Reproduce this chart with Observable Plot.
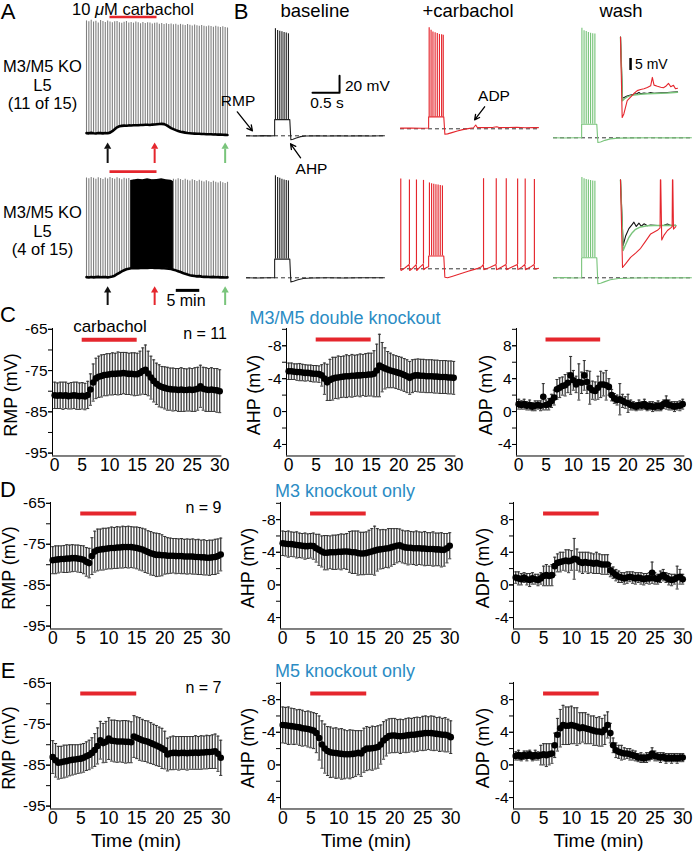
<!DOCTYPE html>
<html><head><meta charset="utf-8">
<script src="https://cdn.jsdelivr.net/npm/d3@7"></script>
<script src="https://cdn.jsdelivr.net/npm/@observablehq/plot@0.6"></script>
<style>
html,body{margin:0;padding:0;background:#fff;}
#fig{position:relative;width:693px;height:853px;overflow:hidden;background:#fff;font-family:"Liberation Sans",Arial,Helvetica,sans-serif;color:#000;}
.lbl{position:absolute;white-space:nowrap;line-height:0.86;}
.multi{text-align:center;}
</style></head><body><div id="fig"></div>
<script>
// ---------------- DATA ----------------
const minutes = [0,0.5,1,1.5,2,2.5,3,3.5,4,4.5,5,5.5,6,6.5,7,7.5,8,8.5,9,9.5,10,10.5,11,11.5,12,12.5,13,13.5,14,14.5,15,15.5,16,16.5,17,17.5,18,18.5,19,19.5,20,20.5,21,21.5,22,22.5,23,23.5,24,24.5,25,25.5,26,26.5,27,27.5,28,28.5,29,29.5,30];
const carbachol = [5, 15];
const xTicks = [0,5,10,15,20,25,30];

// C: M3/M5 double knockout (n = 11)
const cRmpMean = [-81.0,-81.1,-81.0,-81.1,-81.0,-81.2,-81.1,-81.0,-81.1,-81.2,
 -81.1,-81.3,-80.9,-79.6,-77.9,-76.9,-76.5,-76.3,-76.1,-76.0,
 -75.9,-75.8,-75.8,-75.7,-75.7,-75.6,-75.7,-75.8,-75.8,-75.9,
 -75.9,-75.6,-75.1,-74.8,-75.7,-76.7,-77.5,-78.2,-78.7,-79.0,
 -79.2,-79.4,-79.5,-79.6,-79.6,-79.7,-79.6,-79.7,-79.7,-79.6,
 -79.7,-79.6,-79.4,-78.8,-79.4,-79.6,-79.7,-79.6,-79.7,-79.8,
 -80.0];
const cRmpErr = [3.2,3.1,3.2,3.3,3.2,3.1,3.2,3.2,3.3,3.2,
 3.2,3.2,3.3,3.8,4.5,4.9,5.0,5.1,5.0,5.1,
 5.0,5.1,5.0,5.2,5.1,5.0,5.1,5.0,5.1,5.2,
 5.1,5.3,5.6,6.0,5.4,5.2,5.1,5.0,5.1,5.0,
 5.1,5.2,5.1,5.2,5.1,5.2,5.3,5.2,5.1,5.2,
 5.2,5.3,5.2,5.1,5.2,5.3,5.2,5.3,5.2,5.3,
 5.2];
const cAhpMean = [-4.9,-4.9,-4.85,-4.8,-4.8,-4.75,-4.7,-4.7,-4.65,-4.6,
 -4.6,-4.55,-4.4,-4.0,-3.55,-3.85,-4.0,-4.1,-4.15,-4.2,
 -4.25,-4.3,-4.3,-4.35,-4.35,-4.4,-4.4,-4.45,-4.45,-4.5,
 -4.5,-4.6,-5.0,-5.6,-5.4,-5.25,-5.1,-5.0,-4.9,-4.8,
 -4.7,-4.6,-4.45,-4.3,-4.1,-4.3,-4.4,-4.4,-4.35,-4.35,
 -4.3,-4.3,-4.3,-4.25,-4.25,-4.2,-4.2,-4.2,-4.15,-4.15,
 -4.1];
const cAhpErr = [1.0,1.0,0.95,1.0,1.05,1.0,1.0,0.95,1.0,1.0,
 1.0,1.0,1.3,1.9,2.2,2.5,2.6,2.5,2.6,2.5,
 2.5,2.6,2.5,2.6,2.5,2.5,2.6,2.5,2.6,2.6,
 2.6,2.8,3.2,3.8,3.0,2.5,2.2,2.1,2.0,2.0,
 2.0,2.0,2.0,2.0,2.0,2.0,1.95,2.0,2.0,2.0,
 2.0,2.0,2.0,2.0,2.0,2.0,2.0,2.0,2.0,2.0,
 2.0];
const cAdpMean = [0.9,0.8,0.9,0.7,0.8,0.6,0.7,0.8,0.7,1.8,
 0.8,0.9,1.3,1.7,2.7,2.9,3.1,3.2,3.5,4.4,
 3.8,3.3,3.6,3.5,4.4,3.6,2.9,2.6,2.5,2.9,
 3.3,3.3,3.2,3.0,2.0,1.6,1.4,1.5,1.3,1.1,
 1.0,0.8,0.7,0.6,0.8,0.7,0.9,0.6,0.7,0.6,
 0.6,0.7,0.6,0.9,1.1,0.8,0.7,0.6,0.7,0.7,
 0.9];
const cAdpErr = [0.6,0.5,0.6,0.5,0.6,0.5,0.6,0.5,0.6,1.6,
 0.6,0.7,0.8,0.9,1.2,1.2,1.1,1.3,1.2,2.3,
 1.2,1.0,2.2,1.3,1.8,1.4,2.0,1.1,1.1,1.4,
 1.6,1.4,1.8,1.0,0.7,0.6,0.6,1.9,0.8,0.7,
 1.1,0.6,0.5,0.5,0.6,0.5,0.6,0.5,0.5,0.6,
 0.5,0.6,0.5,0.5,0.8,0.6,0.5,0.6,0.5,0.6,
 0.6];

// D: M3 knockout only (n = 9)
const dRmpMean = [-78.9,-78.8,-78.7,-78.6,-78.6,-78.5,-78.5,-78.4,-78.4,-78.5,
 -78.6,-78.8,-79.3,-79.6,-77.9,-76.8,-76.4,-76.3,-76.2,-76.1,
 -76.0,-75.9,-75.9,-75.8,-75.8,-75.7,-75.7,-75.7,-75.7,-75.8,
 -75.9,-76.1,-76.3,-76.6,-76.9,-77.2,-77.4,-77.6,-77.6,-77.7,
 -77.7,-77.8,-77.8,-77.8,-77.9,-77.9,-77.9,-78.0,-78.0,-78.0,
 -78.0,-78.1,-78.1,-78.2,-78.2,-78.3,-78.3,-78.2,-78.1,-77.9,
 -77.5];
const dRmpErr = [3.3,3.4,3.3,3.2,3.3,3.4,3.3,3.3,3.2,3.3,
 3.3,3.4,3.5,3.6,4.5,5.0,5.1,5.0,5.1,5.0,
 5.0,5.1,5.0,5.1,5.0,5.1,5.0,5.1,5.0,5.0,
 5.1,5.2,5.2,5.3,5.2,5.3,5.2,5.3,5.2,5.0,
 4.6,4.4,4.3,4.2,4.3,4.2,4.3,4.2,4.3,4.2,
 4.3,4.2,4.3,4.2,4.3,4.2,4.3,4.2,4.3,4.2,
 4.0];
const dAhpMean = [-5.1,-5.05,-5.0,-5.0,-4.95,-4.9,-4.85,-4.8,-4.75,-4.75,
 -4.8,-4.75,-4.5,-4.3,-4.1,-3.95,-3.95,-4.0,-4.0,-4.0,
 -4.05,-4.05,-4.1,-4.1,-4.05,-4.0,-4.0,-3.9,-3.85,-3.85,
 -3.9,-4.0,-4.1,-4.2,-4.3,-4.35,-4.4,-4.45,-4.5,-4.6,
 -4.7,-4.8,-4.85,-4.7,-4.6,-4.55,-4.55,-4.5,-4.5,-4.5,
 -4.45,-4.45,-4.4,-4.4,-4.4,-4.35,-4.35,-4.3,-4.3,-4.5,
 -4.8];
const dAhpErr = [1.5,1.5,1.6,1.5,1.5,1.6,1.5,1.5,1.6,1.5,
 1.5,1.6,1.7,1.9,1.9,2.1,2.1,2.0,2.1,2.1,
 2.1,2.2,2.1,2.2,2.5,2.6,2.6,2.7,2.6,2.6,
 2.6,2.7,2.8,3.0,2.6,2.4,2.4,2.3,2.4,2.3,
 2.2,2.1,2.0,2.0,2.0,2.1,2.0,2.0,2.1,2.0,
 2.0,2.1,2.0,2.0,2.1,2.0,2.0,2.1,2.0,1.8,
 1.6];
const dAdpMean = [0.9,0.8,0.7,0.9,0.7,0.6,0.8,0.7,0.6,0.8,
 1.1,1.2,1.1,1.2,2.3,2.7,2.8,2.9,3.0,2.9,
 3.0,3.2,3.1,2.8,2.7,2.8,2.7,2.7,2.6,2.7,
 2.6,2.5,2.5,2.5,1.8,1.5,1.2,1.0,0.9,0.8,
 0.9,1.0,0.9,0.8,0.9,0.8,0.7,0.8,0.8,1.5,
 0.8,0.7,1.0,1.2,0.9,0.7,0.6,0.7,0.9,1.0,
 0.7];
const dAdpErr = [0.7,0.8,0.7,0.6,0.7,0.8,0.7,0.6,0.7,0.7,
 1.2,1.3,1.2,1.3,1.1,1.1,1.2,1.1,1.3,1.4,
 1.2,2.5,1.3,1.2,1.3,1.2,1.3,1.2,1.2,1.3,
 1.2,1.2,1.2,1.2,0.8,0.7,0.7,0.7,0.6,0.7,
 0.7,0.6,0.7,0.7,0.6,0.7,0.7,0.6,0.7,1.3,
 0.7,0.6,0.7,0.7,0.6,0.7,0.7,0.6,1.4,0.9,
 0.6];

// E: M5 knockout only (n = 7)
const eRmpMean = [-83.0,-83.8,-84.4,-84.3,-84.1,-84.0,-83.8,-83.7,-83.6,-83.5,
 -83.4,-83.2,-82.8,-82.5,-82.0,-81.3,-80.3,-78.9,-79.6,-79.3,
 -78.5,-79.0,-79.1,-79.2,-79.2,-79.2,-79.3,-79.3,-79.4,-78.0,
 -78.3,-78.6,-78.9,-79.1,-79.3,-79.6,-79.9,-80.2,-80.5,-80.9,
 -81.3,-82.4,-82.1,-82.0,-82.0,-82.1,-82.0,-82.0,-82.1,-82.0,
 -82.0,-81.9,-82.0,-81.9,-81.9,-81.8,-81.8,-81.7,-81.6,-82.2,
 -83.2];
const eRmpErr = [4.0,4.1,4.0,3.9,4.0,3.9,3.8,3.7,3.6,3.5,
 3.5,3.5,3.5,3.6,3.7,4.0,4.4,4.6,4.8,5.0,
 5.1,5.0,5.1,5.1,5.0,5.1,5.2,5.1,5.0,5.1,
 5.1,5.2,5.1,5.0,5.1,5.0,4.9,4.9,4.8,4.9,
 4.6,4.0,4.0,4.1,4.0,4.1,4.0,4.0,4.1,4.0,
 4.0,4.1,4.0,4.1,4.0,4.1,4.0,4.1,4.2,4.3,
 4.3];
const eAhpMean = [-4.9,-4.85,-4.8,-4.75,-4.7,-4.65,-4.6,-4.5,-4.45,-4.4,
 -4.3,-4.2,-3.9,-3.3,-2.5,-2.0,-1.7,-1.55,-1.5,-1.45,
 -1.4,-1.35,-1.3,-1.3,-1.3,-1.35,-1.4,-1.5,-1.4,-1.8,
 -2.0,-2.0,-2.05,-2.1,-2.2,-2.5,-3.0,-3.3,-3.55,-3.6,
 -3.6,-3.55,-3.5,-3.55,-3.6,-3.65,-3.7,-3.7,-3.75,-3.8,
 -3.85,-3.9,-3.9,-3.9,-3.85,-3.8,-3.75,-3.7,-3.7,-3.6,
 -3.4];
const eAhpErr = [2.2,2.2,2.3,2.2,2.2,2.1,2.2,2.2,2.1,2.2,
 2.2,2.2,2.4,2.7,2.9,3.0,3.0,3.1,3.0,3.1,
 3.0,3.1,3.0,2.9,3.0,2.9,2.8,2.7,2.8,2.7,
 2.7,2.6,2.7,2.6,2.6,2.4,2.3,2.2,2.1,2.1,
 2.1,2.0,2.1,2.0,2.1,2.1,2.0,2.1,2.1,2.0,
 2.1,2.1,2.0,2.1,2.1,2.0,2.1,2.0,2.1,2.0,
 2.0];
const eAdpMean = [1.1,1.2,1.0,1.2,1.1,1.3,1.0,1.2,1.1,1.2,
 1.3,1.2,1.3,1.4,2.4,3.7,4.5,4.9,4.8,4.8,
 4.9,4.8,4.7,4.5,4.6,4.5,4.4,4.3,4.2,4.1,
 4.1,4.0,4.3,4.9,3.9,2.4,1.8,1.6,1.5,1.4,
 1.4,1.3,1.2,1.1,0.9,0.9,0.8,0.9,1.0,1.4,
 1.1,1.0,0.9,1.0,0.8,0.9,0.8,0.9,0.8,0.9,
 0.9];
const eAdpErr = [0.5,0.6,0.5,0.5,0.6,0.5,0.5,0.6,0.5,1.2,
 1.3,1.4,1.3,1.2,1.5,2.0,2.3,2.4,2.3,2.3,
 2.3,2.2,2.3,1.9,1.8,1.9,1.8,1.7,1.8,1.7,
 1.8,1.7,1.8,1.6,1.2,0.9,0.9,0.8,0.9,0.7,
 0.6,0.7,0.6,0.6,0.5,0.6,0.5,0.6,0.5,0.7,
 0.6,0.5,0.6,0.5,0.6,0.5,0.6,0.5,0.6,0.5,
 0.5];

// A: whole-experiment recordings (one sweep every 30 s; mV)
const aTopBase = [-80.0,-80.2,-79.8,-80.1,-80.3,-79.9,-80.0,-80.2,-79.9,-80.1,
 -79.6,-78.4,-76.8,-75.2,-74.3,-74.0,-73.8,-73.9,-73.6,-73.7,
 -73.5,-73.4,-73.5,-73.2,-73.3,-73.1,-73.0,-73.2,-72.9,-72.8,
 -72.6,-72.4,-72.3,-72.5,-73.4,-74.6,-75.8,-76.7,-77.5,-78.2,
 -78.8,-79.2,-79.6,-79.9,-80.1,-80.3,-80.4,-80.6,-80.5,-80.8,
 -80.7,-80.9,-81.0,-80.9,-81.2,-81.1,-81.3,-81.2,-81.4,-81.5,
 -81.6];
const aTopPeak = [13.5,12.8,14.0,12.5,13.2,11.8,13.8,12.9,12.2,13.4,
 12.6,11.9,12.7,13.1,12.0,11.5,12.4,12.9,11.8,12.2,
 11.6,12.5,11.9,11.2,12.1,11.4,12.0,11.7,10.9,11.5,
 11.8,10.8,11.3,10.6,11.1,10.4,11.0,10.2,10.8,9.9,
 10.6,10.1,9.6,10.4,9.8,9.2,10.0,9.5,9.0,9.7,
 9.1,8.6,9.3,8.8,8.2,9.0,8.4,7.9,8.6,8.1,
 7.6];
const aBotBase = [-80.0,-80.3,-79.9,-80.2,-80.0,-79.8,-80.1,-80.0,-79.9,-80.2,
 -79.9,-79.5,-78.8,-77.6,-76.4,-75.2,-74.3,-73.5,-73.0,-72.6,
 -72.5,-72.4,-72.5,-72.3,-72.4,-72.2,-72.3,-72.2,-72.1,-72.3,
 -72.2,-72.4,-72.5,-72.6,-72.8,-73.0,-73.3,-73.8,-74.4,-75.1,
 -75.8,-76.6,-77.3,-77.9,-78.4,-78.8,-79.1,-79.4,-79.2,-79.6,
 -79.8,-79.7,-79.9,-80.0,-79.8,-80.1,-80.0,-80.2,-80.1,-80.3,
 -80.2];
const aBotPeak = [2.6,1.9,3.1,2.3,1.6,2.8,2.1,1.3,2.5,1.8,
 3.0,2.2,1.5,2.7,2.0,1.2,2.4,1.7,2.2,0.5,
 0.8,0.3,0.9,0.4,0.7,0.2,0.8,0.5,0.9,0.3,
 0.6,0.8,0.4,0.7,0.3,0.6,0.2,1.6,0.9,2.0,
 1.3,0.6,1.5,0.8,0.1,1.2,0.4,-0.3,0.7,-0.1,
 -0.8,0.3,-0.5,-1.2,-0.2,-0.9,-1.5,-0.6,-1.3,-1.9,
 -1.0];
const blockT  = [9.4,10,11,12,13,14,15,16,17,18,18.5];
const blockHi = [0.6,1.0,1.6,1.2,1.9,1.1,1.4,2.0,1.2,0.7,-0.3];
const blockLo = [-72.6,-72.5,-72.5,-72.3,-72.4,-72.2,-72.2,-72.4,-72.6,-73.0,-73.8];
const sampleTimes = [4.5, 14.5, 29.5];           // times of the traces in B
const scaleMin = [19.1, 24.1];                   // 5 min scale bar

// B: single responses [s, mV]; spikes [s, trough mV, peak mV]
const bBaseTopLine = [[0,-80],[0.15,-80.3],[0.3,-79.8],[0.45,-80.1],[0.52,-80],[0.52,-61],[0.8,-61],[0.82,-84.5],[0.86,-84],[0.92,-82.5],[1.0,-81],[1.1,-80.3],[1.3,-80.1],[1.5,-80.3],[1.7,-79.9],[1.9,-80.2],[2.1,-80],[2.3,-80.3],[2.55,-80]];
const bBaseTopSpikes = [[0.535,-61,46],[0.575,-61,44],[0.615,-61,43],[0.655,-61,42.5],[0.695,-61,41.5],[0.735,-61,41],[0.775,-61,40]];
const bCarbTopLine = [[0,-79.2],[0.2,-79],[0.4,-79.3],[0.52,-79],[0.52,-66],[0.8,-66],[0.82,-86.5],[0.87,-86],[0.95,-84.5],[1.05,-82.5],[1.15,-81],[1.25,-79.8],[1.35,-78.8],[1.39,-75.5],[1.42,-78.5],[1.55,-78.6],[1.7,-78.4],[1.78,-77.6],[1.82,-78.6],[2.0,-78.5],[2.15,-78.2],[2.3,-78.7],[2.45,-78.4],[2.55,-78.6]];
const bCarbTopSpikes = [[0.53,-66,39],[0.565,-66,36],[0.6,-66,34],[0.64,-66,33],[0.68,-66,32],[0.72,-66,31],[0.76,-66,30.5],[0.79,-66,30]];
const bWashTopLine = [[0,-80],[0.2,-80.2],[0.4,-79.9],[0.52,-80],[0.52,-64],[0.8,-64],[0.82,-85.5],[0.87,-85],[0.95,-83],[1.05,-81.3],[1.2,-80.4],[1.5,-80.1],[1.8,-80],[2.1,-80.1],[2.55,-80]];
const bWashTopSpikes = [[0.525,-64,49],[0.565,-64,46],[0.605,-64,45],[0.645,-64,44],[0.685,-64,43],[0.725,-64,42.5],[0.765,-64,42]];
const bBaseBotLine = [[0,-80],[0.2,-80.2],[0.4,-79.9],[0.52,-80],[0.52,-58],[0.8,-58],[0.82,-84.8],[0.87,-84],[0.95,-82.3],[1.05,-80.8],[1.2,-80.2],[1.5,-80],[1.8,-80.2],[2.1,-79.9],[2.55,-80]];
const bBaseBotSpikes = [[0.535,-58,40],[0.575,-58,38],[0.615,-58,37],[0.655,-58,36],[0.695,-58,35],[0.735,-58,34.5],[0.775,-58,34]];
const bCarbBotLine = [[0,-79],[0.01,-82],[0.08,-79],[0.16,-75],[0.17,-82],[0.23,-79],[0.29,-75],[0.3,-82],[0.36,-78],[0.42,-74.5],[0.43,-81],[0.48,-78.5],[0.52,-77.5],[0.52,-65],[0.8,-65],[0.82,-90],[0.87,-90.5],[0.95,-89],[1.05,-87],[1.15,-85],[1.25,-83],[1.35,-81],[1.43,-79.5],[1.5,-77.5],[1.53,-75],[1.54,-81],[1.65,-78.5],[1.765,-75],[1.775,-81],[1.87,-78],[1.95,-75],[1.96,-81],[2.06,-78],[2.16,-75],[2.17,-81],[2.24,-78],[2.3,-75],[2.31,-81],[2.4,-78],[2.47,-75],[2.48,-80.5],[2.55,-79.5]];
const bCarbBotSpikes = [[0.005,-79,25.5],[0.165,-75,24.5],[0.295,-75,24.5],[0.425,-74.5,24],[0.535,-65,21],[0.575,-65,20],[0.615,-65,19.5],[0.655,-65,19],[0.695,-65,18.5],[0.735,-65,18],[0.775,-65,17.5],[1.535,-75,26],[1.77,-75,26],[1.955,-75,26],[2.165,-75,25.5],[2.305,-75,25.5],[2.475,-75,25]];
const bWashBotLine = [[0,-80],[0.2,-79.8],[0.4,-80.2],[0.52,-80],[0.52,-56.5],[0.8,-56.5],[0.82,-87],[0.87,-86.5],[0.95,-84.5],[1.05,-82.3],[1.2,-80.8],[1.5,-80.2],[1.8,-80],[2.1,-80.1],[2.55,-80]];
const bWashBotSpikes = [[0.525,-56.5,38],[0.565,-56.5,36.5],[0.605,-56.5,35.5],[0.645,-56.5,35],[0.685,-56.5,34.5],[0.725,-56.5,34],[0.765,-56.5,33.5]];
// insets (expanded post-burst period)
const insTopBlack = [[0.8,-56.5],[0.86,-82],[0.92,-81.6],[1.0,-81],[1.1,-80.6],[1.2,-80.3],[1.3,-80],[1.35,-79.6],[1.4,-80.1],[1.5,-79.8],[1.6,-80],[1.7,-79.6],[1.8,-79.9],[2.0,-79.7],[2.2,-79.6],[2.4,-79.4],[2.5,-79.3]];
const insTopGreen = [[0.8,-56.5],[0.86,-83],[0.92,-82.2],[1.0,-81.4],[1.1,-80.9],[1.2,-80.6],[1.4,-80.3],[1.6,-80.1],[1.8,-80],[2.0,-79.9],[2.2,-79.8],[2.4,-79.6],[2.5,-79.5]];
const insTopRed = [[0.8,-56.5],[0.85,-90],[0.9,-88.5],[1.0,-83],[1.1,-81.5],[1.2,-80],[1.3,-78.8],[1.4,-78.3],[1.5,-78],[1.6,-77.5],[1.7,-76.8],[1.75,-73.3],[1.8,-76.5],[1.9,-77],[2.0,-77.4],[2.08,-77.6],[2.15,-77],[2.23,-75.8],[2.3,-77.2],[2.38,-76.6],[2.44,-78],[2.5,-77.8]];
const insBotBlack = [[0.8,-61],[0.88,-88.3],[0.95,-84.5],[1.05,-81.3],[1.15,-79.5],[1.2,-78.6],[1.27,-80.4],[1.35,-79],[1.42,-80.3],[1.5,-79.3],[1.6,-80.1],[1.7,-79.8],[1.9,-80],[2.1,-79.9],[2.2,-79.4],[2.3,-80],[2.45,-79.9]];
const insBotGreen = [[0.8,-61],[0.88,-90.4],[0.95,-88],[1.05,-85],[1.15,-83],[1.25,-81.6],[1.4,-80.6],[1.6,-80.1],[1.8,-80],[2.0,-80],[2.2,-79.9],[2.45,-80]];
const insBotRed = [[0.8,-61],[0.86,-97.5],[0.95,-96],[1.1,-93.3],[1.25,-91.5],[1.4,-89.5],[1.55,-86.5],[1.7,-83.5],[1.9,-82],[1.98,-81],[1.99,-61],[2.0,-61],[2.03,-86],[2.1,-84],[2.2,-82.1],[2.3,-81],[2.34,-80.5],[2.35,-61],[2.36,-61],[2.38,-81.5],[2.45,-80.5]];
const scale20 = {t: 1.72, v: -29.4, dt: 0.5, dv: 20};
const scale5 = {t: 1.1, v: -70.4, dv: 5};
const annotBase = [{x1:-0.17,y1:-51.8,x2:0.11,y2:-74.1},{x1:1.0,y1:-105.9,x2:0.815,y2:-89.4}];
const annotCarb = [{x1:1.555,y1:-54.1,x2:1.37,y2:-69.4}];

// ---------------- DRAWING ----------------
const FONT = '"Liberation Sans", Arial, Helvetica, sans-serif';
const RED = "#e5262d", GREEN = "#79c47b", BLACK = "#111", BLUE = "#2b8cc4";
const fig = document.getElementById("fig");

function mount(svg, left, top) {
  Object.assign(svg.style, {position:"absolute", left:left+"px", top:top+"px", background:"transparent", overflow:"visible", maxWidth:"none", fontFamily:FONT});
  fig.appendChild(svg);
}
function framed(f, opts) {
  const [mt, mr, mb, ml] = f.m || [4,4,4,4];
  const svg = Plot.plot({width: f.x1-f.x0+ml+mr, height: f.y1-f.y0+mt+mb,
    marginTop:mt, marginRight:mr, marginBottom:mb, marginLeft:ml, ...opts});
  mount(svg, f.x0-ml, f.y0-mt);
  return svg;
}
function label(text, x, y, o = {}) {
  const d = document.createElement("div");
  d.className = "lbl" + (o.cls ? " " + o.cls : "");
  if (o.html) d.innerHTML = text; else d.textContent = text;
  d.style.left = x + "px"; d.style.top = y + "px";
  d.style.fontSize = (o.size || 16) + "px";
  if (o.lh) d.style.lineHeight = o.lh + "px";
  if (o.color) d.style.color = o.color;
  const ax = o.anchor === "start" ? "0" : o.anchor === "end" ? "-100%" : "-50%";
  d.style.transform = `translate(${ax},-50%)` + (o.rotate ? ` rotate(${o.rotate}deg)` : "");
  fig.appendChild(d);
}

// ---- Panel A ----
const aX0 = 86, aX1 = 227, aDom = [-87, 18], aK = 1.2;
function aPlot(base, peak, restY, barV, extra = []) {
  const data = minutes.map((t, i) => ({t, base: base[i], peak: peak[i]}));
  framed({x0:aX0, x1:aX1, y0:restY-(aDom[1]+80)*aK, y1:restY+(-80-aDom[0])*aK},
    {x:{domain:[0,30], axis:null}, y:{domain:aDom, axis:null}, marks:[
      Plot.ruleX(data, {x:"t", y1:"base", y2:"peak", stroke:"#808080", strokeWidth:1.1}),
      ...extra,
      Plot.line(data, {x:"t", y:"base", stroke:"#000", strokeWidth:2.6}),
      Plot.ruleY([{y:barV, x1:carbachol[0], x2:carbachol[1]}], {y:"y", x1:"x1", x2:"x2", stroke:RED, strokeWidth:2.6})
    ]});
}
aPlot(aTopBase, aTopPeak, 133, 16.7);
const block = blockT.map((t, i) => ({t, hi: blockHi[i], lo: blockLo[i]}));
aPlot(aBotBase, aBotPeak, 277, 7.9, [Plot.areaY(block, {x:"t", y1:"lo", y2:"hi", fill:"#000"})]);

const arrows = sampleTimes.map((t, i) => ({t, c: [BLACK, RED, GREEN][i]}));
function aArrows(y0, y1, extra = []) {
  framed({x0:aX0, x1:aX1, y0, y1}, {x:{domain:[0,30], axis:null}, y:{domain:[0,1], axis:null}, color:{type:"identity"}, marks:[
    Plot.ruleX(arrows, {x:"t", y1:0, y2:0.72, stroke:"c", strokeWidth:2}),
    Plot.dot(arrows, {x:"t", y:0.84, symbol:"triangle", r:2.7, fill:"c"}),
    ...extra]});
}
aArrows(143, 163);
aArrows(287, 305, [Plot.ruleY([{y:0.84, x1:scaleMin[0], x2:scaleMin[1]}], {y:"y", x1:"x1", x2:"x2", stroke:"#000", strokeWidth:3})]);

// ---- Panel B ----
const bK = 54.1, bMv = 0.85, bDom = [-100, 58];
function bTrace(x0, restY, line, spikes, color, extra = []) {
  framed({x0, x1:x0+2.55*bK, y0:restY-(bDom[1]+80)*bMv, y1:restY+(-80-bDom[0])*bMv},
    {x:{domain:[0,2.55], axis:null}, y:{domain:bDom, axis:null}, marks:[
      Plot.ruleY([-80], {stroke:"#333", strokeWidth:1, strokeDasharray:"4,3"}),
      Plot.ruleX(spikes, {x:d=>d[0], y1:d=>d[1], y2:d=>d[2], stroke:color, strokeWidth:1.15}),
      Plot.line(line, {x:d=>d[0], y:d=>d[1], stroke:color, strokeWidth:1.1}),
      ...extra]});
}
const sb = [[scale20.t-scale20.dt, scale20.v],[scale20.t, scale20.v],[scale20.t, scale20.v+scale20.dv]];
bTrace(246, 135, bBaseTopLine, bBaseTopSpikes, "#222", [
  Plot.line(sb, {x:d=>d[0], y:d=>d[1], stroke:"#000", strokeWidth:2}),
  Plot.arrow(annotBase, {x1:"x1", y1:"y1", x2:"x2", y2:"y2", stroke:"#000", strokeWidth:1.3, headLength:7, headAngle:55})
]);
bTrace(400, 128, bCarbTopLine, bCarbTopSpikes, RED, [
  Plot.arrow(annotCarb, {x1:"x1", y1:"y1", x2:"x2", y2:"y2", stroke:"#000", strokeWidth:1.3, headLength:7, headAngle:55})
]);
bTrace(553, 137, bWashTopLine, bWashTopSpikes, GREEN);
bTrace(246, 277, bBaseBotLine, bBaseBotSpikes, "#222");
bTrace(400, 268, bCarbBotLine, bCarbBotSpikes, RED);
bTrace(553, 277, bWashBotLine, bWashBotSpikes, GREEN);

function inset(y0, y1, dom, blackL, greenL, redL, extra = []) {
  framed({x0:620, x1:677, y0, y1}, {x:{domain:[0.8,2.5], axis:null}, y:{domain:dom, axis:null}, marks:[
    Plot.line(blackL, {x:d=>d[0], y:d=>d[1], stroke:"#111", strokeWidth:1.1}),
    Plot.line(greenL, {x:d=>d[0], y:d=>d[1], stroke:GREEN, strokeWidth:1.4}),
    Plot.line(redL, {x:d=>d[0], y:d=>d[1], stroke:RED, strokeWidth:1.1}),
    ...extra]});
}
inset(35, 122, [-92.08, -55.83], insTopBlack, insTopGreen, insTopRed,
  [Plot.ruleX([scale5], {x:"t", y1:"v", y2:d=>d.v+d.dv, stroke:"#000", strokeWidth:2.5})]);
inset(176, 272, [-99.58, -59.58], insBotBlack, insBotGreen, insBotRed);

// ---- Panels C–E ----
const kinds = {
  RMP: {domain:[-95.7,-64.8], reverse:false, major:[-95,-85,-75,-65], minor:[-95,-90,-85,-80,-75,-70,-65], barY:-67.5, title:"RMP (mV)", dx:-42},
  AHP: {domain:[-10.1,5.4], reverse:true, major:[-8,-4,0,4], minor:[-10,-8,-6,-4,-2,0,2,4], barY:-8.75, title:"AHP (mV)", dx:-33},
  ADP: {domain:[-5.4,10.1], reverse:false, major:[-4,0,4,8], minor:[-4,-2,0,2,4,6,8,10], barY:8.75, title:"ADP (mV)", dx:-31}
};
function summary(kind, mean, err, x0, x30, top, bottom, showTime) {
  const K = kinds[kind];
  const k = (x30 - x0) / 30;
  const data = minutes.map((t, i) => ({t, m: mean[i], e: err[i]}));
  const yBottom = K.reverse ? K.domain[1] : K.domain[0];
  framed({x0:x0-0.4*k, x1:x30+0.4*k, y0:top, y1:bottom, m:[8,16,30,40]}, {
    x:{domain:[-0.4,30.4]}, y:{domain:K.domain, reverse:K.reverse},
    marks:[
      Plot.ruleX(data, {x:"t", y1:d=>d.m-d.e, y2:d=>d.m+d.e, stroke:"#444", strokeWidth:1.35}),
      Plot.link(data, {x1:d=>d.t-0.28, x2:d=>d.t+0.28, y1:d=>d.m+d.e, y2:d=>d.m+d.e, stroke:"#333", strokeWidth:1}),
      Plot.link(data, {x1:d=>d.t-0.28, x2:d=>d.t+0.28, y1:d=>d.m-d.e, y2:d=>d.m-d.e, stroke:"#333", strokeWidth:1}),
      Plot.dot(data, {x:"t", y:"m", r:3.3, fill:"#000"}),
      Plot.ruleY([{y:K.barY, x1:carbachol[0], x2:carbachol[1]}], {y:"y", x1:"x1", x2:"x2", stroke:RED, strokeWidth:4}),
      Plot.ruleX([-0.4], {stroke:"#000"}),
      Plot.ruleY([yBottom], {stroke:"#000"}),
      Plot.axisY({ticks:K.minor, tickSize:4, tickFormat:()=>"", label:null}),
      Plot.axisY({ticks:K.major, tickSize:4, tickPadding:1, fontSize:15.5, tickFormat:d=>String(d), label:null}),
      Plot.axisX({ticks:xTicks, tickSize:0, tickPadding:3, fontSize:17.5, tickFormat:d=>String(d), label:null})
    ]});
  label(K.title, x0 + K.dx, (top + bottom) / 2 + 3, {size:18, rotate:-90});
  if (showTime) label("Time (min)", (x0 + x30) / 2, 841, {size:19});
}
summary("RMP", cRmpMean, cRmpErr, 54, 219, 328, 455.5);
summary("AHP", cAhpMean, cAhpErr, 288, 453, 328, 455.5);
summary("ADP", cAdpMean, cAdpErr, 518, 682, 328, 455.5);
summary("RMP", dRmpMean, dRmpErr, 52, 220, 502, 628.5);
summary("AHP", dAhpMean, dAhpErr, 282, 449, 502, 628.5);
summary("ADP", dAdpMean, dAdpErr, 515, 682, 502, 628.5);
summary("RMP", eRmpMean, eRmpErr, 52, 220, 681.5, 808, true);
summary("AHP", eAhpMean, eAhpErr, 282, 450, 681.5, 808, true);
summary("ADP", eAdpMean, eAdpErr, 515, 682, 681.5, 808, true);

// ---- Text ----
label("A", 8, 12, {size:22}); label("B", 241, 12, {size:22});
label("C", 8, 315, {size:22}); label("D", 8, 490, {size:22}); label("E", 8, 671, {size:22});
label('10 <i>μ</i>M carbachol', 133, 9, {size:16.5, html:true});
label("M3/M5 KO<br>L5<br>(11 of 15)", 42.5, 85, {size:16.5, html:true, lh:18.6, cls:"multi"});
label("M3/M5 KO<br>L5<br>(4 of 15)", 42.5, 231, {size:16.5, html:true, lh:18.6, cls:"multi"});
label("5 min", 186, 301, {size:16});
label("baseline", 315, 11, {size:18.5}); label("+carbachol", 468, 11, {size:18.5}); label("wash", 621, 11, {size:18.5});
label("20 mV", 345, 86, {size:15.5, anchor:"start"}); label("0.5 s", 327, 103, {size:15.5});
label("RMP", 238, 101, {size:15.5}); label("AHP", 311.5, 169, {size:15.5}); label("ADP", 494, 96, {size:15.5});
label("5 mV", 635, 64, {size:14, anchor:"start"});
label("carbachol", 110, 327, {size:17});
label("n = 11", 205, 334, {size:16}); label("n = 9", 203.5, 508, {size:16}); label("n = 7", 203.5, 688, {size:16});
label("M3/M5 double knockout", 345, 318.5, {size:18, color:BLUE});
label("M3 knockout only", 345, 492, {size:18, color:BLUE});
label("M5 knockout only", 345, 671.5, {size:18, color:BLUE});
</script></body></html>
